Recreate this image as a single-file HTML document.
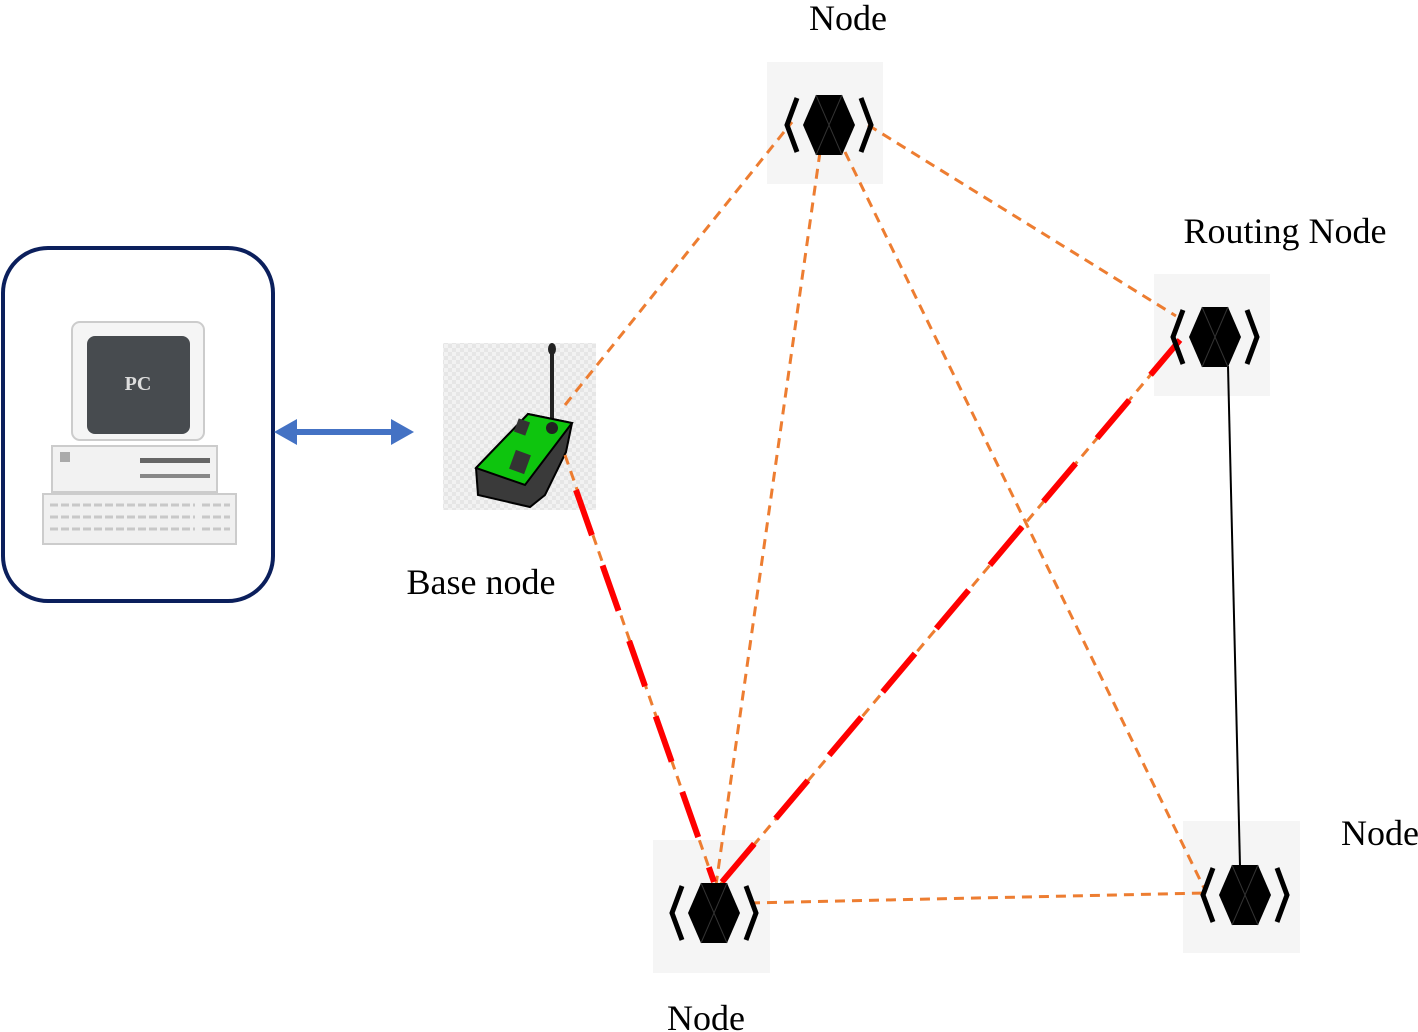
<!DOCTYPE html>
<html><head><style>
html,body{margin:0;padding:0;background:#fff;}
svg{display:block}
text{font-family:"Liberation Serif",serif;fill:#000}
</style></head><body>
<svg width="1418" height="1032" viewBox="0 0 1418 1032" xmlns="http://www.w3.org/2000/svg">
<defs>
<g id="nd">
  <polygon points="-26,0 -13,-30 13,-30 26,0 13,30 -13,30" fill="#000"/>
  <line x1="-13" y1="-30" x2="13" y2="30" stroke="#333" stroke-width="1"/>
  <line x1="13" y1="-30" x2="-13" y2="30" stroke="#333" stroke-width="1"/>
  <polyline points="-32,-27 -42,0 -32,27" fill="none" stroke="#000" stroke-width="5"/>
  <polyline points="32,-27 42,0 32,27" fill="none" stroke="#000" stroke-width="5"/>
</g>
<pattern id="chk" width="8" height="8" patternUnits="userSpaceOnUse">
  <rect width="8" height="8" fill="#f2f2f2"/><rect width="4" height="4" fill="#e6e6e6"/><rect x="4" y="4" width="4" height="4" fill="#e6e6e6"/>
</pattern>
</defs>

<!-- PC box -->
<rect x="3" y="248" width="270" height="353" rx="45" fill="#fff" stroke="#0b1f5c" stroke-width="4"/>
<rect x="72" y="322" width="132" height="118" rx="8" fill="#f5f5f5" stroke="#ccc" stroke-width="2"/>
<rect x="87" y="336" width="103" height="98" rx="8" fill="#474b4f"/>
<text x="138" y="390" font-family="Liberation Sans" font-size="20" font-weight="bold" fill="#ddd" style="fill:#ddd" text-anchor="middle">PC</text>
<rect x="52" y="446" width="165" height="46" fill="#f2f2f2" stroke="#ccc" stroke-width="2"/>
<rect x="60" y="452" width="10" height="10" fill="#aaa"/>
<rect x="140" y="458" width="70" height="5" fill="#666"/>
<rect x="140" y="474" width="70" height="4" fill="#888"/>
<rect x="43" y="494" width="193" height="50" fill="#f0f0f0" stroke="#ccc" stroke-width="2"/>
<g stroke="#c8c8c8" stroke-width="3">
<line x1="50" y1="505" x2="195" y2="505" stroke-dasharray="8,3"/>
<line x1="50" y1="517" x2="195" y2="517" stroke-dasharray="8,3"/>
<line x1="50" y1="529" x2="195" y2="529" stroke-dasharray="8,3"/>
<line x1="202" y1="505" x2="230" y2="505" stroke-dasharray="8,3"/>
<line x1="202" y1="517" x2="230" y2="517" stroke-dasharray="8,3"/>
<line x1="202" y1="529" x2="230" y2="529" stroke-dasharray="8,3"/>
</g>

<!-- blue double arrow -->
<line x1="295" y1="432" x2="392" y2="432" stroke="#4472c4" stroke-width="6"/>
<polygon points="274,432 297,419 297,445" fill="#4472c4"/>
<polygon points="414,432 391,419 391,445" fill="#4472c4"/>

<!-- base node -->
<rect x="443" y="343" width="153" height="167" fill="url(#chk)"/>
<line x1="552" y1="350" x2="552" y2="428" stroke="#222" stroke-width="4"/>
<ellipse cx="552" cy="349" rx="4" ry="6" fill="#222"/>
<polygon points="476,468 528,414 572,423 566,452 545,495 530,507 478,495" fill="#3a3a3a" stroke="#000" stroke-width="2"/>
<polygon points="476,468 528,414 572,423 525,485" fill="#0ec50e" stroke="#000" stroke-width="2"/>
<rect x="512" y="452" width="16" height="20" fill="#333" transform="rotate(20 520 462)"/>
<rect x="516" y="420" width="12" height="14" fill="#333" transform="rotate(20 522 427)"/>
<circle cx="552" cy="428" r="6" fill="#222"/>

<!-- node backgrounds -->
<rect x="767" y="62" width="116" height="122" fill="#f5f5f5"/>
<rect x="1154" y="274" width="116" height="122" fill="#f5f5f5"/>
<rect x="653" y="840" width="117" height="133" fill="#f5f5f5"/>
<rect x="1183" y="821" width="117" height="132" fill="#f5f5f5"/>

<!-- orange dashed lines -->
<g stroke="#ed7d31" stroke-width="3" stroke-dasharray="10,7" fill="none">
<line x1="565" y1="405" x2="792" y2="122"/>
<line x1="820" y1="152" x2="716" y2="885"/>
<line x1="845" y1="152" x2="1205" y2="890"/>
<line x1="868" y1="125" x2="1176" y2="316"/>
<line x1="750" y1="903" x2="1206" y2="893"/>
<line x1="565" y1="455" x2="715" y2="885"/>
<line x1="720" y1="885" x2="1180" y2="340"/>
</g>
<!-- red dashed -->
<g stroke="#ff0000" stroke-width="6" fill="none">
<line x1="576" y1="490" x2="714" y2="882" stroke-dasharray="48,32"/>
<line x1="722" y1="882" x2="1180" y2="340" stroke-dasharray="50,33"/>
</g>
<!-- black solid -->
<line x1="1228" y1="366" x2="1240" y2="866" stroke="#000" stroke-width="2"/>

<use href="#nd" x="829" y="125"/>
<use href="#nd" x="1215" y="337"/>
<use href="#nd" x="714" y="913"/>
<use href="#nd" x="1245" y="895"/>

<text x="848" y="30" font-size="36" text-anchor="middle">Node</text>
<text x="1285" y="243" font-size="36" text-anchor="middle">Routing Node</text>
<text x="481" y="594" font-size="36" text-anchor="middle">Base node</text>
<text x="1380" y="845" font-size="36" text-anchor="middle">Node</text>
<text x="706" y="1030" font-size="36" text-anchor="middle">Node</text>
</svg>
</body></html>
